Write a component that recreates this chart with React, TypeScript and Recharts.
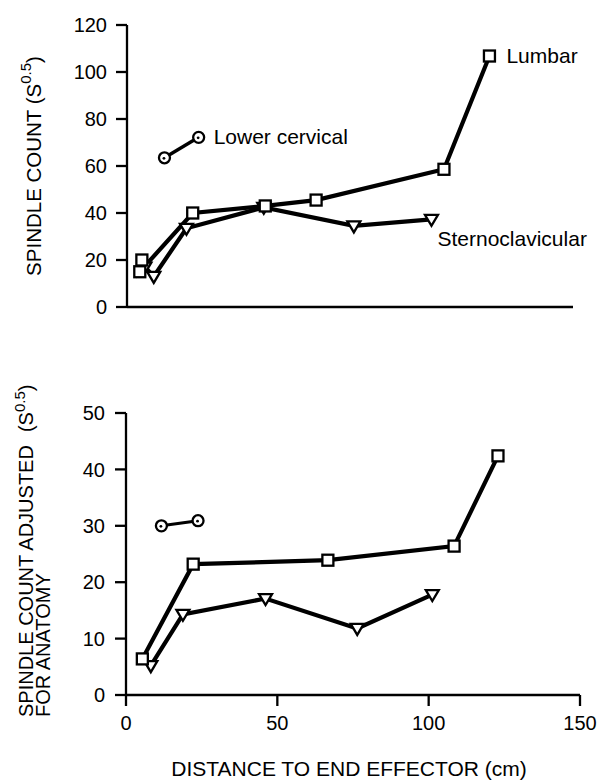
import React from 'react';
import { LineChart, Line, XAxis, YAxis, LabelList, Customized } from 'recharts';

// distances (cm) and spindle counts
const topLumbarDist = [5, 4.3, 22.1, 46.5, 63.6, 106.6, 121.9];
const topLumbarCount = [20, 15, 40, 43, 45.5, 58.6, 106.8];
const topSternoDist = [6, 9, 20, 46, 76.3, 102.4];
const topSternoCount = [17, 13, 33.5, 42.4, 34.5, 37.3];
const topCervicalDist = [12.6, 24.1];
const topCervicalCount = [63.5, 72.2];

const botLumbarDist = [5.4, 22.2, 66.7, 108.4, 122.9];
const botLumbarCount = [6.4, 23.2, 23.9, 26.4, 42.4];
const botSternoDist = [8.2, 18.8, 46.1, 76.4, 101.2];
const botSternoCount = [5.2, 14.3, 17.1, 11.8, 17.8];
const botCervicalDist = [11.7, 23.8];
const botCervicalCount = [30.0, 30.9];

const xTicks = [0, 50, 100, 150];
const topYTicks = [0, 20, 40, 60, 80, 100, 120];
const botYTicks = [0, 10, 20, 30, 40, 50];

const FONT = '"Liberation Sans", Arial, Helvetica, sans-serif';

const zip = (d: number[], s: number[]) => d.map((v, i) => ({ d: v, s: s[i] }));

const SquareDot = (p: any) => {
  if (p.cx == null) return <g key={`sq-${p.index}`} />;
  return (
    <rect key={`sq-${p.index}`} x={p.cx - 5.5} y={p.cy - 5.5} width={11} height={11}
      fill="#fff" stroke="#000" strokeWidth={2.3} />
  );
};

const TriangleDot = (p: any) => {
  if (p.cx == null) return <g key={`tr-${p.index}`} />;
  const { cx, cy } = p;
  return (
    <polygon key={`tr-${p.index}`}
      points={`${cx - 6.5},${cy - 4.5} ${cx + 6.5},${cy - 4.5} ${cx},${cy + 6.5}`}
      fill="#fff" stroke="#000" strokeWidth={2.3} strokeLinejoin="miter" />
  );
};

const CircleDot = (p: any) => {
  if (p.cx == null) return <g key={`ci-${p.index}`} />;
  return (
    <g key={`ci-${p.index}`}>
      <circle cx={p.cx} cy={p.cy} r={5.5} fill="#fff" stroke="#000" strokeWidth={2.3} />
      <circle cx={p.cx - 0.5} cy={p.cy + 0.5} r={1.4} fill="#000" />
    </g>
  );
};

// only the last point of a series carries its name
const endLabel = (name: string, last: number, dx: number, dy: number) => (p: any) => {
  if (p.index !== last) return null;
  return (
    <text x={p.x + dx} y={p.y + dy} fontSize={21} fontFamily={FONT} fill="#000"
      dominantBaseline="central">
      {name}
    </text>
  );
};

const tickStyle = { fontSize: 20, fontFamily: FONT, fill: '#000' };
const axisLine = { stroke: '#000', strokeWidth: 2.3 };
const tickLine = { stroke: '#000', strokeWidth: 2.3 };

const TopYTitle = () => (
  <text transform="translate(33,166) rotate(-90)" textAnchor="middle" dominantBaseline="central"
    fontSize={20.5} fontFamily={FONT} fill="#000">
    SPINDLE COUNT (S
    <tspan dy={-8} fontSize={15}>0.5</tspan>
    <tspan dy={8}>)</tspan>
  </text>
);

const BotYTitle = () => (
  <g fontFamily={FONT} fill="#000">
    <text transform="translate(32.5,377) rotate(-90)" fontSize={20}>
      SPINDLE COUNT ADJUSTED
      <tspan dx={13}>(S</tspan>
      <tspan dy={-8} fontSize={15}>0.5</tspan>
      <tspan dy={8}>)</tspan>
    </text>
    <text transform="translate(49.5,377) rotate(-90)" fontSize={20}>FOR ANATOMY</text>
  </g>
);

const XTitle = () => (
  <text x={349} y={428} textAnchor="middle" dominantBaseline="central" fontSize={21}
    fontFamily={FONT} fill="#000">
    DISTANCE TO END EFFECTOR (cm)
  </text>
);

export default function App() {
  return (
    <div style={{ position: 'absolute', left: 0, top: 0, width: 612, height: 780, background: '#fff' }}>
      <div style={{ position: 'absolute', left: 0, top: 0 }}>
        <LineChart width={612} height={340} margin={{ top: 25, right: 39, bottom: 13, left: 67 }}>
          <XAxis dataKey="d" type="number" domain={[0, 150]} ticks={xTicks} tick={false}
            tickSize={11} height={20} axisLine={axisLine} tickLine={tickLine} />
          <YAxis type="number" domain={[0, 120]} ticks={topYTicks} width={60} tickSize={11}
            tickMargin={9} tick={tickStyle} axisLine={axisLine} tickLine={tickLine} />
          <Line data={zip(topCervicalDist, topCervicalCount)} dataKey="s" stroke="#000" strokeWidth={3.4}
            dot={CircleDot} activeDot={false} isAnimationActive={false}>
            <LabelList dataKey="s" content={endLabel('Lower cervical', 1, 15, -1)} />
          </Line>
          <Line data={zip(topSternoDist, topSternoCount)} dataKey="s" stroke="#000" strokeWidth={4.2}
            dot={TriangleDot} activeDot={false} isAnimationActive={false}>
            <LabelList dataKey="s" content={endLabel('Sternoclavicular', 5, 6, 19)} />
          </Line>
          <Line data={zip(topLumbarDist, topLumbarCount)} dataKey="s" stroke="#000" strokeWidth={4.2}
            dot={SquareDot} activeDot={false} isAnimationActive={false}>
            <LabelList dataKey="s" content={endLabel('Lumbar', 6, 17, -1)} />
          </Line>
          <Customized component={TopYTitle} />
        </LineChart>
      </div>
      <div style={{ position: 'absolute', left: 0, top: 340 }}>
        <LineChart width={612} height={440} margin={{ top: 73, right: 32, bottom: 45, left: 66 }}>
          <XAxis dataKey="d" type="number" domain={[0, 150]} ticks={xTicks} tick={tickStyle}
            tickSize={11} tickMargin={10} height={40} axisLine={axisLine} tickLine={tickLine} />
          <YAxis type="number" domain={[0, 50]} ticks={botYTicks} width={60} tickSize={11}
            tickMargin={10} tick={tickStyle} axisLine={axisLine} tickLine={tickLine} />
          <Line data={zip(botCervicalDist, botCervicalCount)} dataKey="s" stroke="#000" strokeWidth={3}
            dot={CircleDot} activeDot={false} isAnimationActive={false} />
          <Line data={zip(botSternoDist, botSternoCount)} dataKey="s" stroke="#000" strokeWidth={4.2}
            dot={TriangleDot} activeDot={false} isAnimationActive={false} />
          <Line data={zip(botLumbarDist, botLumbarCount)} dataKey="s" stroke="#000" strokeWidth={4.2}
            dot={SquareDot} activeDot={false} isAnimationActive={false} />
          <Customized component={BotYTitle} />
          <Customized component={XTitle} />
        </LineChart>
      </div>
    </div>
  );
}
